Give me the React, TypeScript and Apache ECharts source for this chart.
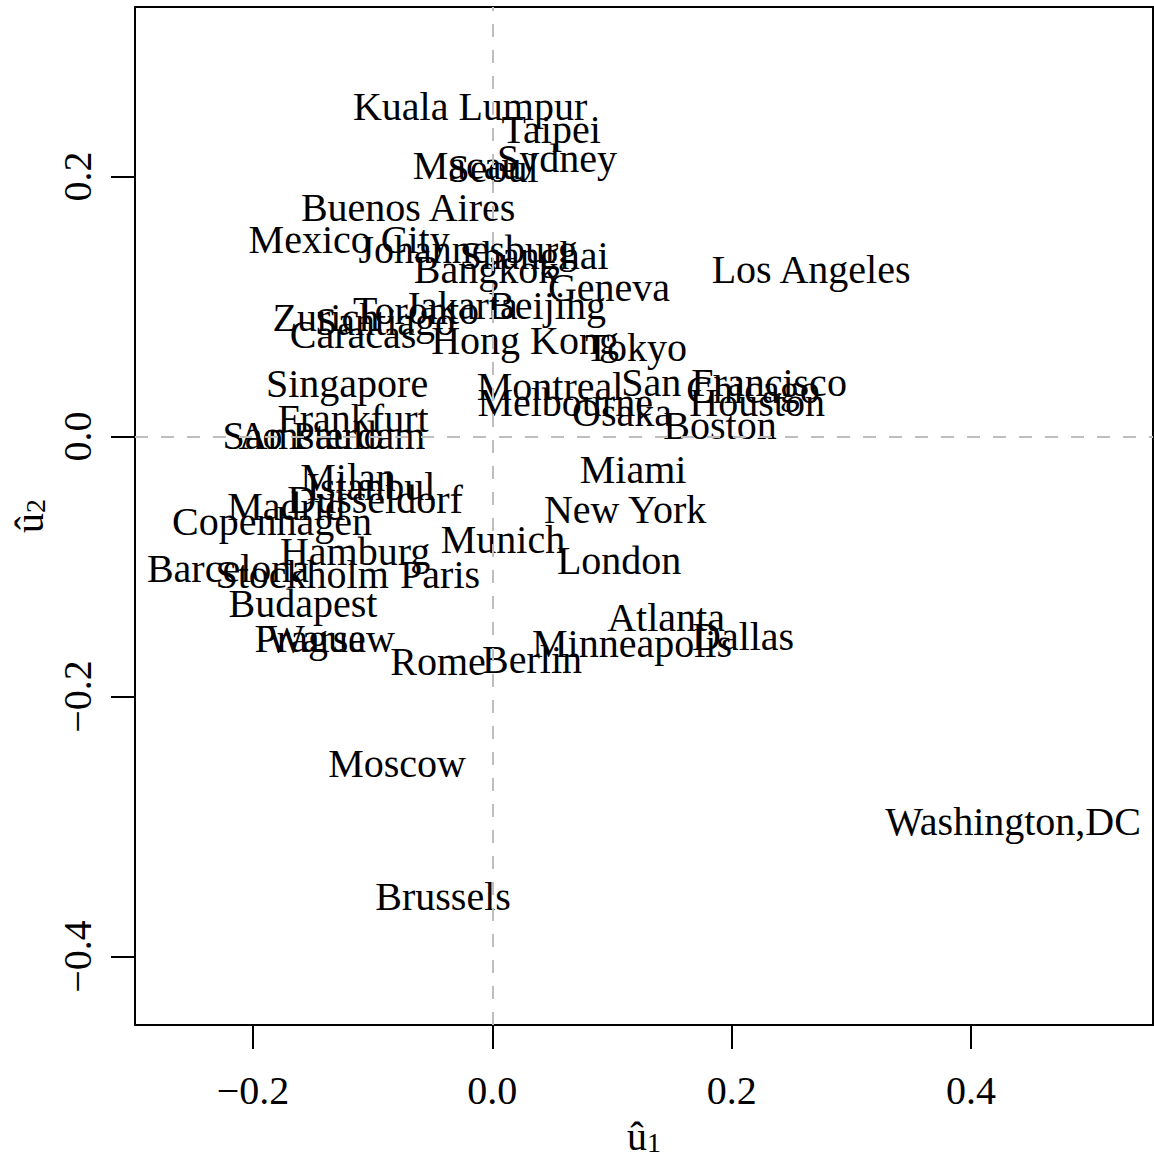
import React, { useEffect, useRef } from "react";
import * as echarts from "echarts";

const cities = [
  "Kuala Lumpur", "Taipei", "Sydney", "Macau", "Seoul", "Buenos Aires", "Mexico City",
  "Johannesburg", "Shanghai", "Bangkok", "Geneva", "Jakarta", "Toronto", "Beijing",
  "Zurich", "Santiago", "Caracas", "Hong Kong", "Tokyo", "Singapore", "Frankfurt",
  "Sao Paulo", "Amsterdam", "Milan", "Istanbul", "Madrid", "Dusseldorf", "Copenhagen",
  "Hamburg", "Barcelona", "Stockholm", "Paris", "Budapest", "Prague", "Warsaw", "Rome",
  "Montreal", "Melbourne", "Osaka", "San Francisco", "Chicago", "Houston", "Boston",
  "Miami", "New York", "Munich", "London", "Atlanta", "Dallas", "Minneapolis", "Berlin",
  "Los Angeles", "Moscow", "Brussels", "Washington,DC",
];

const u1 = [
  -0.0186, 0.0491, 0.0541, -0.0211, 0.0006, -0.0704, -0.1197,
  -0.0203, 0.0349, -0.0053, 0.0975, -0.0262, -0.0638, 0.0457,
  -0.1391, -0.0897, -0.1164, 0.0273, 0.1201, -0.1214, -0.1164,
  -0.1582, -0.134, -0.1206, -0.1014, -0.1724, -0.098, -0.1841,
  -0.1147, -0.2209, -0.159, -0.0437, -0.1582, -0.1523, -0.1348, -0.0454,
  0.0482, 0.0608, 0.1084, 0.202, 0.2178, 0.2212, 0.1902,
  0.1176, 0.1109, 0.0089, 0.1059, 0.1451, 0.2095, 0.1167, 0.0332,
  0.2663, -0.0796, -0.0412, 0.4351,
];

const u2 = [
  0.2542, 0.2365, 0.2142, 0.2088, 0.2065, 0.1758, 0.1519,
  0.1442, 0.1396, 0.1281, 0.115, 0.1004, 0.0973, 0.1004,
  0.0912, 0.0881, 0.0781, 0.0742, 0.0681, 0.0404, 0.0142,
  0.0004, 0.0004, -0.0312, -0.0388, -0.0535, -0.0488, -0.065,
  -0.0888, -0.1012, -0.1058, -0.1058, -0.1281, -0.155, -0.155, -0.1727,
  0.0381, 0.0265, 0.0181, 0.0419, 0.0358, 0.0258, 0.0088,
  -0.025, -0.0558, -0.0792, -0.0954, -0.1396, -0.1535, -0.1596, -0.1712,
  0.1288, -0.2519, -0.3542, -0.2965,
];

const xTicks = [-0.2, 0, 0.2, 0.4];
const yTicks = [-0.4, -0.2, 0, 0.2];
const xRange = [-0.2986, 0.552];
const yRange = [-0.4527, 0.3304];

const FONT = "Liberation Serif";

const fmt = (v: number) => (v < 0 ? "\u2212" : "") + Math.abs(v).toFixed(1);

export default function App() {
  const ref = useRef<HTMLDivElement>(null);
  useEffect(() => {
    if (!ref.current) return;
    const chart = echarts.init(ref.current, null, { renderer: "svg" });
    const nameRich = {
      u: { fontSize: 40, fontFamily: FONT, color: "#000", lineHeight: 44, verticalAlign: "bottom" },
      s: { fontSize: 28, fontFamily: FONT, color: "#000", lineHeight: 28, verticalAlign: "bottom" },
    };
    const axisCommon = {
      type: "value",
      splitLine: { show: false },
      axisLine: { show: true, onZero: false, lineStyle: { color: "#000", width: 2 } },
      axisTick: { show: true, inside: false, length: 24, lineStyle: { color: "#000", width: 2 } },
      nameLocation: "middle",
    };
    chart.setOption({
      animation: false,
      backgroundColor: "#fff",
      grid: {
        left: 135,
        top: 7,
        right: 1,
        bottom: 137,
        show: true,
        borderColor: "#000",
        borderWidth: 2,
        backgroundColor: "transparent",
      },
      xAxis: {
        ...axisCommon,
        min: xRange[0],
        max: xRange[1],
        name: "{u|û}{s|1}",
        nameGap: 87,
        nameTextStyle: { rich: nameRich },
        axisTick: { ...axisCommon.axisTick, customValues: xTicks },
        axisLabel: {
          customValues: xTicks,
          formatter: fmt,
          fontSize: 40,
          fontFamily: FONT,
          color: "#000",
          margin: 45,
        },
      },
      yAxis: {
        ...axisCommon,
        min: yRange[0],
        max: yRange[1],
        name: "{u|û}{s|2}",
        nameGap: 78,
        nameTextStyle: { rich: nameRich },
        axisTick: { ...axisCommon.axisTick, customValues: yTicks },
        axisLabel: {
          customValues: yTicks,
          formatter: fmt,
          rotate: 90,
          fontSize: 40,
          fontFamily: FONT,
          color: "#000",
          margin: 38,
        },
      },
      series: [
        {
          type: "custom",
          clip: false,
          data: cities.map((c, i) => [u1[i], u2[i]]),
          renderItem: (params: any, api: any) => {
            const p = api.coord([api.value(0), api.value(1)]);
            return {
              type: "text",
              x: p[0],
              y: p[1],
              style: {
                text: cities[params.dataIndex],
                fontSize: 40,
                fontFamily: FONT,
                fill: "#000",
                align: "center",
                verticalAlign: "middle",
              },
            };
          },
          markLine: {
            silent: true,
            symbol: "none",
            label: { show: false },
            lineStyle: { color: "#bebebe", width: 2, type: [13, 13] },
            data: [{ xAxis: 0 }, { yAxis: 0 }],
          },
          z: 2,
        },
      ],
    });
    return () => chart.dispose();
  }, []);
  return (
    <div
      ref={ref}
      style={{ position: "absolute", left: 0, top: 0, width: 1154, height: 1162 }}
    />
  );
}
